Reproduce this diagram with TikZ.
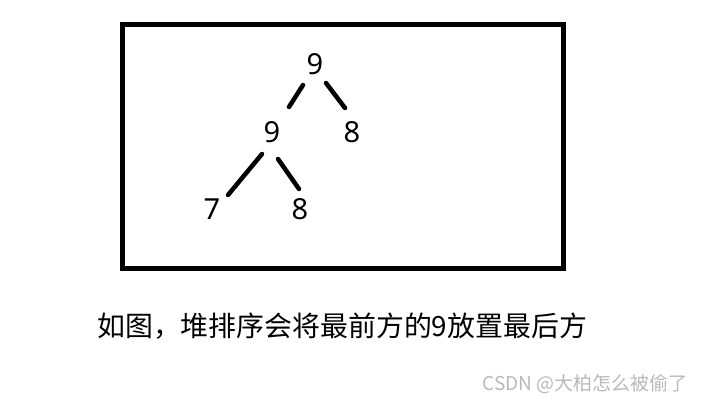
\documentclass[tikz,border=0pt]{standalone}
\usepackage{fontspec}
\setmainfont{Noto Sans}
\newfontfamily\cjk{Noto Sans CJK SC}
\begin{document}
\begin{tikzpicture}[x=1pt,y=-1pt,
  num/.style={font=\fontsize{29}{29}\selectfont, inner sep=0pt, text=black},
  edge/.style={line width=4.5pt, line cap=round, black}]
\useasboundingbox (0,0) rectangle (702,406);
\draw[line width=4.5pt] (122.5,24.5) rectangle (563.5,268.5);
\node[num] (r) at (315,64.5) {9};
\node[num] (a) at (272,132) {9};
\node[num] (b) at (352,132) {8};
\node[num] (c) at (212,209.5) {7};
\node[num] (d) at (300,209.5) {8};
\coordinate (e1s) at (303,85); \coordinate (e1e) at (289,107);
\coordinate (e2s) at (326,83); \coordinate (e2e) at (345,108);
\coordinate (e3s) at (262,154); \coordinate (e3e) at (228,195);
\coordinate (e4s) at (278,159); \coordinate (e4e) at (299,189);
\draw[edge] (e1s) -- (e1e);
\draw[edge] (e2s) -- (e2e);
\draw[edge] (e3s) -- (e3e);
\draw[edge] (e4s) -- (e4e);
\node[anchor=west, inner sep=0pt, font=\cjk\fontsize{27.9}{27.9}\selectfont] (cap) at (97,326) {如图，堆排序会将最前方的9放置最后方};
\node[anchor=east, inner sep=0pt, text={rgb,255:red,185;green,185;blue,185}, font=\cjk\fontsize{19}{19}\selectfont] (wm) at (688,384) {CSDN @大柏怎么被偷了};
\end{tikzpicture}
\end{document}
